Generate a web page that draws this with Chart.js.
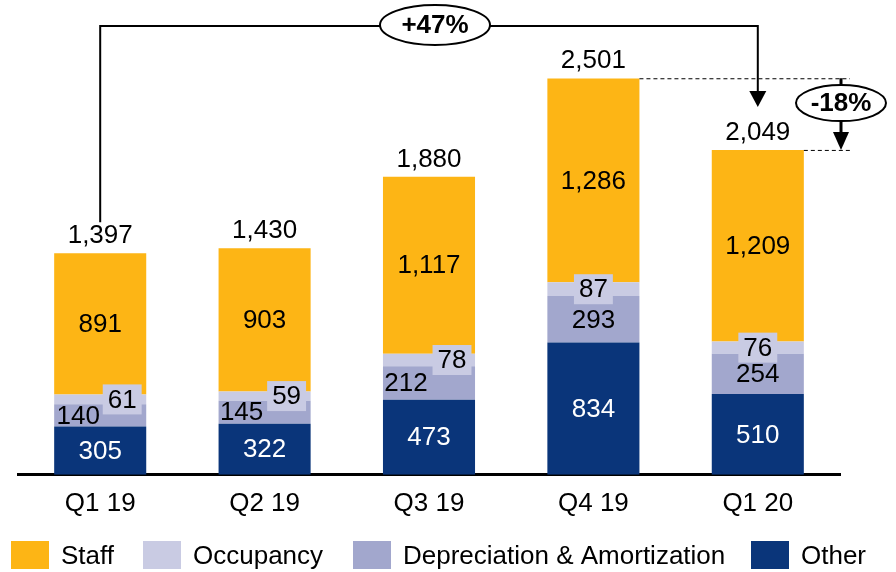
<!DOCTYPE html>
<html><head><meta charset="utf-8">
<script src="https://cdn.jsdelivr.net/npm/chart.js@4.4.0/dist/chart.umd.min.js"></script>
<style>html,body{margin:0;padding:0;background:#fff}#wrap{width:896px;height:572px}</style>
</head><body><div id="wrap"><canvas id="c" width="896" height="572"></canvas></div>
<script>
const categories = ['Q1 19', 'Q2 19', 'Q3 19', 'Q4 19', 'Q1 20'];
const otherValues = [305, 322, 473, 834, 510];
const depreciationValues = [140, 145, 212, 293, 254];
const occupancyValues = [61, 59, 78, 87, 76];
const staffValues = [891, 903, 1117, 1286, 1209];
const totalValues = [1397, 1430, 1880, 2501, 2049];

const FONT = '"Liberation Sans", Arial, sans-serif';
const FS = 26;
const COLORS = { staff: '#FDB515', occ: '#C9CBE3', dep: '#A2A7CD', other: '#0A357A' };

// label nudges (style only)
const depShift = [-22, -23, -23, 0, 0];
const occShift = [22, 22, 23, 0, 0];
const legendX = [11, 143, 353, 751];

function arrowHead(ctx, x, tipY, w, h) {
  ctx.beginPath();
  ctx.moveTo(x - w / 2, tipY - h);
  ctx.lineTo(x + w / 2, tipY - h);
  ctx.lineTo(x, tipY);
  ctx.closePath();
  ctx.fill();
}
function ellipseLabel(ctx, cx, cy, rx, ry, text) {
  ctx.beginPath();
  ctx.ellipse(cx, cy, rx, ry, 0, 0, Math.PI * 2);
  ctx.fillStyle = '#fff';
  ctx.fill();
  ctx.lineWidth = 2;
  ctx.strokeStyle = '#000';
  ctx.stroke();
  ctx.fillStyle = '#000';
  ctx.font = 'bold ' + FS + 'px ' + FONT;
  ctx.textAlign = 'center';
  ctx.textBaseline = 'middle';
  ctx.fillText(text, cx, cy + 1);
}
function pct(a, b) {
  const p = Math.round((b / a - 1) * 100);
  return (p > 0 ? '+' : '') + p + '%';
}

const labelsPlugin = {
  id: 'labelsPlugin',
  afterDatasetsDraw(chart) {
    const ctx = chart.ctx;
    ctx.save();
    ctx.font = FS + 'px ' + FONT;
    ctx.textAlign = 'center';
    ctx.textBaseline = 'middle';
    chart.data.datasets.forEach((ds, di) => {
      const meta = chart.getDatasetMeta(di);
      meta.data.forEach((bar, i) => {
        const v = ds.data[i];
        const yc = (bar.y + bar.base) / 2;
        let x = bar.x;
        const txt = v.toLocaleString('en-US');
        if (ds.key === 'other') {
          ctx.fillStyle = '#fff';
          ctx.fillText(txt, x, yc + 1);
        } else if (ds.key === 'dep') {
          ctx.fillStyle = '#000';
          ctx.fillText(txt, x + depShift[i], yc + 1);
        } else if (ds.key === 'occ') {
          x += occShift[i];
          const w = ctx.measureText(txt).width + 10;
          ctx.fillStyle = COLORS.occ;
          ctx.fillRect(x - w / 2, yc - 15, w, 30);
          ctx.fillStyle = '#000';
          ctx.fillText(txt, x, yc + 1);
        } else {
          ctx.fillStyle = '#000';
          ctx.fillText(txt, x, yc + 1);
        }
      });
    });
    // totals
    const xs = chart.scales.x, ys = chart.scales.y;
    ctx.textBaseline = 'alphabetic';
    ctx.fillStyle = '#000';
    totalValues.forEach((t, i) => {
      ctx.fillText(t.toLocaleString('en-US'), xs.getPixelForValue(i), ys.getPixelForValue(t) - 10);
    });
    ctx.restore();
  },
  afterDraw(chart) {
    const ctx = chart.ctx;
    const xs = chart.scales.x, ys = chart.scales.y;
    const ca = chart.chartArea;
    ctx.save();
    // +47% bracket
    const n = totalValues.length;
    const x0 = xs.getPixelForValue(0), x1 = xs.getPixelForValue(n - 1);
    const y0 = ys.getPixelForValue(totalValues[0]) - 31;
    const y1 = ys.getPixelForValue(totalValues[n - 1]) - 43;
    const topY = 26;
    ctx.strokeStyle = '#000';
    ctx.fillStyle = '#000';
    ctx.lineWidth = 2;
    ctx.beginPath();
    ctx.moveTo(x0, y0);
    ctx.lineTo(x0, topY);
    ctx.lineTo(x1, topY);
    ctx.lineTo(x1, y1 - 14);
    ctx.stroke();
    arrowHead(ctx, x1, y1, 17, 16);
    ellipseLabel(ctx, (x0 + x1) / 2 + 6, topY - 1, 55, 20, pct(totalValues[0], totalValues[n - 1]));

    // -18% dashed guides
    const peak = totalValues.indexOf(Math.max(...totalValues));
    const meta = chart.getDatasetMeta(chart.data.datasets.length - 1);
    const pb = meta.data[peak], lb = meta.data[n - 1];
    const yp = ys.getPixelForValue(totalValues[peak]);
    const yl = ys.getPixelForValue(totalValues[n - 1]);
    const ax = ca.right + 1;
    ctx.lineWidth = 1;
    ctx.setLineDash([4, 3]);
    ctx.beginPath();
    ctx.moveTo(pb.x + pb.width / 2, yp + 0.5);
    ctx.lineTo(ax + 9, yp + 0.5);
    ctx.moveTo(lb.x + lb.width / 2, yl + 0.5);
    ctx.lineTo(ax + 9, yl + 0.5);
    ctx.stroke();
    ctx.setLineDash([]);
    ctx.lineWidth = 3;
    ctx.beginPath();
    ctx.moveTo(ax, yp);
    ctx.lineTo(ax, yl - 14);
    ctx.stroke();
    arrowHead(ctx, ax, yl, 16, 18);
    ellipseLabel(ctx, ax, (yp + yl) / 2 - 11, 45, 18, pct(totalValues[peak], totalValues[n - 1]));

    // legend
    ctx.font = FS + 'px ' + FONT;
    ctx.textAlign = 'left';
    ctx.textBaseline = 'middle';
    const order = ['staff', 'occ', 'dep', 'other'];
    order.forEach((k, i) => {
      const ds = chart.data.datasets.find(d => d.key === k);
      ctx.fillStyle = ds.backgroundColor;
      ctx.fillRect(legendX[i], 541, 38, 28);
      ctx.fillStyle = '#000';
      ctx.fillText(ds.label, legendX[i] + 50, 557);
    });
    ctx.restore();
  }
};

new Chart(document.getElementById('c'), {
  type: 'bar',
  data: {
    labels: categories,
    datasets: [
      { key: 'other', label: 'Other', data: otherValues, backgroundColor: COLORS.other },
      { key: 'dep', label: 'Depreciation & Amortization', data: depreciationValues, backgroundColor: COLORS.dep },
      { key: 'occ', label: 'Occupancy', data: occupancyValues, backgroundColor: COLORS.occ },
      { key: 'staff', label: 'Staff', data: staffValues, backgroundColor: COLORS.staff }
    ]
  },
  options: {
    responsive: false,
    devicePixelRatio: 1,
    animation: false,
    layout: { padding: { left: 18, right: 56, top: 15, bottom: 40 } },
    plugins: { legend: { display: false }, tooltip: { enabled: false } },
    datasets: { bar: { categoryPercentage: 1, barPercentage: 0.56 } },
    scales: {
      x: {
        stacked: true,
        grid: { display: false, drawTicks: false },
        border: { display: true, color: '#000', width: 3 },
        ticks: { color: '#000', font: { family: FONT, size: FS }, padding: 13 }
      },
      y: {
        stacked: true,
        display: false,
        min: 0,
        max: 2900
      }
    }
  },
  plugins: [labelsPlugin]
});
</script>
</body></html>
